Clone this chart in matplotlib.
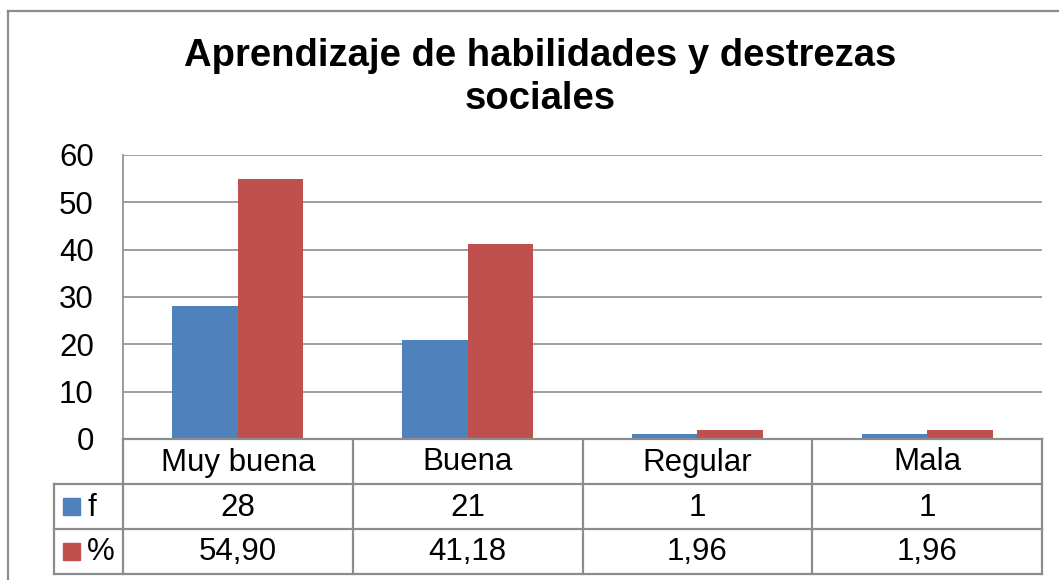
import matplotlib
matplotlib.use("Agg")
import matplotlib.pyplot as plt
from matplotlib.lines import Line2D
from matplotlib.patches import Rectangle

categories = ["Muy buena", "Buena", "Regular", "Mala"]
f_values = [28, 21, 1, 1]
pct_values = [54.90, 41.18, 1.96, 1.96]
f_labels = ["28", "21", "1", "1"]
pct_labels = ["54,90", "41,18", "1,96", "1,96"]
yticks = [0, 10, 20, 30, 40, 50, 60]

blue = "#4F81BD"
red = "#C0504D"
line_gray = "#8C8C8C"

W, H = 1059, 580
plt.rcParams["font.family"] = ["Liberation Sans", "DejaVu Sans"]
fs = 22.5

fig = plt.figure(figsize=(W / 100, H / 100), dpi=100)

def fx(x):
    return x / W

def fy(y):
    return 1 - y / H

# plot area
left, right, top, bottom = 123, 1042, 155, 439
ax = fig.add_axes([fx(left), fy(bottom), fx(right) - fx(left), fy(top) - fy(bottom)])

n = len(categories)
xs = [i + 0.5 for i in range(n)]
bw = 0.285
ax.bar([x - bw / 2 for x in xs], f_values, width=bw, color=blue, zorder=3)
ax.bar([x + bw / 2 for x in xs], pct_values, width=bw, color=red, zorder=3)

ax.set_xlim(0, n)
ax.set_ylim(0, 60)
ax.set_yticks(yticks)
ax.set_yticklabels([str(t) for t in yticks], fontsize=fs)
ax.tick_params(axis="y", length=0, pad=21)
ax.set_xticks([])
ax.yaxis.grid(True, color=line_gray, linewidth=1.2, zorder=0)
for s in ["top", "right", "bottom"]:
    ax.spines[s].set_visible(False)
ax.spines["left"].set_color(line_gray)
ax.spines["left"].set_linewidth(1.2)

# data table under the axis
rows = [439, 484, 529, 574]
tbl_left = 54
col_edges = [left + (right - left) * i / n for i in range(n + 1)]

def hline(x0, x1, y):
    fig.add_artist(Line2D([fx(x0), fx(x1)], [fy(y), fy(y)], color=line_gray, lw=1.6))

def vline(x, y0, y1):
    fig.add_artist(Line2D([fx(x), fx(x)], [fy(y0), fy(y1)], color=line_gray, lw=1.6))

hline(left, right, rows[0])
hline(tbl_left, right, rows[1])
hline(tbl_left, right, rows[2])
hline(tbl_left, right, rows[3])
for x in col_edges:
    vline(x, rows[0], rows[3])
vline(tbl_left, rows[1], rows[3])

for i in range(n):
    cx = (col_edges[i] + col_edges[i + 1]) / 2
    fig.text(fx(cx), fy((rows[0] + rows[1]) / 2 + 1), categories[i], ha="center", va="center", fontsize=fs)
    fig.text(fx(cx), fy((rows[1] + rows[2]) / 2 + 1), f_labels[i], ha="center", va="center", fontsize=fs)
    fig.text(fx(cx), fy((rows[2] + rows[3]) / 2 + 1), pct_labels[i], ha="center", va="center", fontsize=fs)

for (name, color, r) in [("f", blue, 1), ("%", red, 2)]:
    yc = (rows[r] + rows[r + 1]) / 2
    fig.add_artist(Rectangle((fx(63), fy(yc + 8.5)), fx(17), 17 / H, color=color))
    fig.text(fx(87), fy(yc + 1), name, ha="left", va="center", fontsize=fs)

# chart frame
fig.add_artist(Line2D([fx(8), fx(8)], [fy(11), 0], color=line_gray, lw=1.6))
fig.add_artist(Line2D([fx(8), 1], [fy(11), fy(11)], color=line_gray, lw=1.6))

fig.text(fx(540), fy(78), "Aprendizaje de habilidades y destrezas\nsociales",
         ha="center", va="center", fontsize=27.5, fontweight="bold", linespacing=1.25)

fig.savefig("out.png", dpi=100)
